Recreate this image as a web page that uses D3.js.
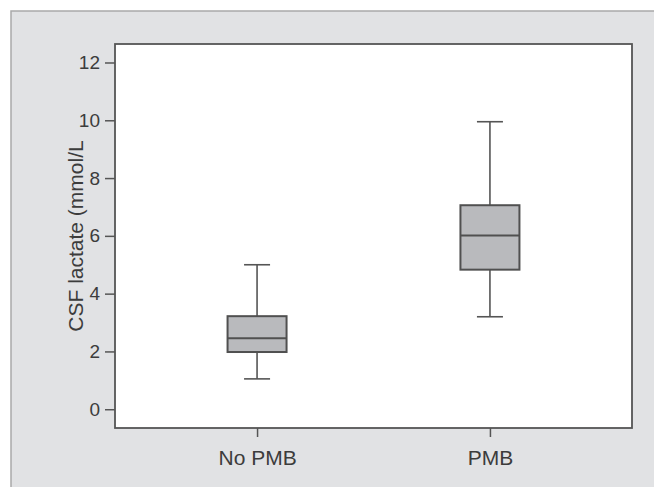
<!DOCTYPE html>
<html>
<head>
<meta charset="utf-8">
<script src="https://cdn.jsdelivr.net/npm/d3@7"></script>
<style>
    body { margin: 0; background: #fff; }
    svg { display: block; }
    text { font-family: "Liberation Sans", Arial, sans-serif; fill: #3c3c3c; }
</style>
</head>
<body>
<svg id="Chart"></svg>
<script>
    // box plot values (mmol/L)
    let groups = ["No PMB", "PMB"];
    let whiskerLow = [1.05, 3.2];
    let q1 = [1.98, 4.83];
    let median = [2.46, 6.01];
    let q3 = [3.22, 7.06];
    let whiskerHigh = [5.0, 9.95];
    let yTicks = [0, 2, 4, 6, 8, 10, 12];
    let yTitle = "CSF lactate (mmol/L";

    function getConfig() {
        let width = 654;
        let height = 487;
        let margin = { top: 44, bottom: 59, left: 115, right: 22 };
        let bodyWidth = width - margin.left - margin.right;
        let bodyHeight = height - margin.top - margin.bottom;
        let container = d3.select("#Chart")
            .attr("width", width)
            .attr("height", height);
        return { width, height, margin, bodyWidth, bodyHeight, container };
    }

    function getScales(config) {
        let xScale = d3.scalePoint()
            .domain(groups)
            .range([0, config.bodyWidth])
            .padding(0.61);
        let yScale = d3.scaleLinear()
            .domain([-0.65, 12.64])
            .range([config.bodyHeight, 0]);
        return { xScale, yScale };
    }

    function drawPanel(config) {
        // grey figure panel with a light border on top and left
        config.container.append("rect")
            .attr("x", 11).attr("y", 11)
            .attr("width", 700).attr("height", 500)
            .attr("fill", "#e1e2e4")
            .attr("stroke", "#a9a9a9")
            .attr("stroke-width", 1.5);
    }

    function drawBoxes(scales, config) {
        let { xScale, yScale } = scales;
        let { margin, container } = config;
        let boxWidth = 59;
        let capWidth = 26;
        let data = groups.map((g, i) => ({
            group: g, lo: whiskerLow[i], q1: q1[i], med: median[i], q3: q3[i], hi: whiskerHigh[i]
        }));

        let body = container.append("g")
            .attr("transform", `translate(${margin.left},${margin.top})`);

        body.append("rect")
            .attr("width", config.bodyWidth)
            .attr("height", config.bodyHeight)
            .attr("fill", "#fff");

        let boxes = body.selectAll(".box")
            .data(data)
            .enter()
            .append("g")
            .attr("class", "box")
            .attr("transform", d => `translate(${xScale(d.group)},0)`);

        // whiskers
        boxes.append("line")
            .attr("y1", d => yScale(d.lo)).attr("y2", d => yScale(d.hi))
            .attr("stroke", "#555").attr("stroke-width", 1.6);
        boxes.selectAll(".cap")
            .data(d => [d.lo, d.hi])
            .enter()
            .append("line")
            .attr("x1", -capWidth / 2).attr("x2", capWidth / 2)
            .attr("y1", v => yScale(v)).attr("y2", v => yScale(v))
            .attr("stroke", "#555").attr("stroke-width", 1.6);

        boxes.append("rect")
            .attr("x", -boxWidth / 2)
            .attr("width", boxWidth)
            .attr("y", d => yScale(d.q3))
            .attr("height", d => yScale(d.q1) - yScale(d.q3))
            .attr("fill", "#b9babd")
            .attr("stroke", "#505050")
            .attr("stroke-width", 2);

        boxes.append("line")
            .attr("x1", -boxWidth / 2).attr("x2", boxWidth / 2)
            .attr("y1", d => yScale(d.med)).attr("y2", d => yScale(d.med))
            .attr("stroke", "#505050").attr("stroke-width", 2);

        // plot frame on top
        body.append("rect")
            .attr("width", config.bodyWidth)
            .attr("height", config.bodyHeight)
            .attr("fill", "none")
            .attr("stroke", "#555")
            .attr("stroke-width", 1.8);
    }

    function drawAxes(scales, config) {
        let { xScale, yScale } = scales;
        let { margin, container, bodyHeight } = config;

        let axisY = d3.axisLeft(yScale)
            .tickValues(yTicks)
            .tickSize(10)
            .tickPadding(5)
            .tickSizeOuter(0);
        let gy = container.append("g")
            .attr("transform", `translate(${margin.left},${margin.top})`)
            .call(axisY);
        gy.select(".domain").remove();
        gy.selectAll(".tick line").attr("stroke", "#555").attr("stroke-width", 1.5);
        gy.selectAll(".tick text")
            .attr("font-size", 19)
            .attr("fill", "#3c3c3c")
            .attr("font-family", "Liberation Sans, Arial, sans-serif");

        let axisX = d3.axisBottom(xScale)
            .tickSize(9)
            .tickPadding(13)
            .tickSizeOuter(0);
        let gx = container.append("g")
            .attr("transform", `translate(${margin.left},${margin.top + bodyHeight})`)
            .call(axisX);
        gx.select(".domain").remove();
        gx.selectAll(".tick line").attr("stroke", "#555").attr("stroke-width", 1.5);
        gx.selectAll(".tick text")
            .attr("font-size", 21)
            .attr("fill", "#3c3c3c")
            .attr("font-family", "Liberation Sans, Arial, sans-serif");

        container.append("text")
            .attr("transform", `translate(83,${margin.top + bodyHeight / 2 + 0})rotate(-90)`)
            .attr("text-anchor", "middle")
            .attr("font-size", 21)
            .text(yTitle);
    }

    let config = getConfig();
    let scales = getScales(config);
    drawPanel(config);
    drawBoxes(scales, config);
    drawAxes(scales, config);
</script>
</body>
</html>
